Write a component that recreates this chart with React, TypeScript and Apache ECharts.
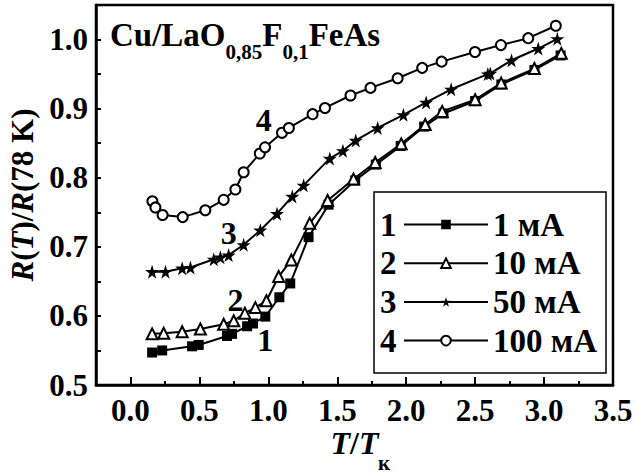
import React, { useEffect, useRef } from "react";
import * as echarts from "echarts";

const FONT = "Liberation Serif";

// Series values (x = T/Tк, y = R(T)/R(78 K))
const s1X = [0.157, 0.23, 0.447, 0.495, 0.7, 0.737, 0.846, 0.889, 0.978, 1.08, 1.159, 1.292, 1.437, 1.63, 1.78, 1.96, 2.13, 2.27, 2.5, 2.69, 2.93, 3.12];
const s1Y = [0.547, 0.55, 0.556, 0.558, 0.571, 0.574, 0.585, 0.589, 0.599, 0.627, 0.647, 0.714, 0.761, 0.796, 0.819, 0.846, 0.874, 0.893, 0.911, 0.935, 0.956, 0.977];

const s2X = [0.157, 0.241, 0.375, 0.507, 0.676, 0.749, 0.83, 0.906, 0.986, 1.075, 1.167, 1.3, 1.43, 1.618, 1.775, 1.964, 2.138, 2.261, 2.5, 2.689, 2.93, 3.125];
const s2Y = [0.574, 0.575, 0.577, 0.581, 0.588, 0.593, 0.604, 0.612, 0.622, 0.657, 0.681, 0.734, 0.767, 0.798, 0.822, 0.849, 0.877, 0.896, 0.913, 0.937, 0.958, 0.98];

const s3X = [0.157, 0.254, 0.375, 0.435, 0.604, 0.652, 0.712, 0.821, 0.942, 1.063, 1.174, 1.256, 1.446, 1.541, 1.634, 1.793, 1.98, 2.145, 2.326, 2.592, 2.61, 2.764, 2.958, 3.096];
const s3Y = [0.664, 0.664, 0.669, 0.67, 0.682, 0.685, 0.688, 0.703, 0.724, 0.748, 0.773, 0.789, 0.828, 0.839, 0.854, 0.872, 0.891, 0.909, 0.928, 0.95, 0.951, 0.97, 0.987, 1.001];

const s4X = [0.159, 0.181, 0.233, 0.379, 0.543, 0.676, 0.761, 0.821, 0.938, 0.976, 1.099, 1.149, 1.321, 1.411, 1.596, 1.741, 1.938, 2.116, 2.257, 2.499, 2.687, 2.885, 3.085];
const s4Y = [0.766, 0.757, 0.746, 0.743, 0.753, 0.768, 0.783, 0.808, 0.835, 0.844, 0.865, 0.872, 0.892, 0.901, 0.919, 0.93, 0.944, 0.959, 0.968, 0.982, 0.992, 1.002, 1.02];

const seriesNames = ["1 мА", "10 мА", "50 мА", "100 мА"];
const seriesNumbers = ["1", "2", "3", "4"];
// curve number annotations [x, y] in data units
const curveLabelPos = [
  [0.978, 0.565],
  [0.761, 0.623],
  [0.712, 0.72],
  [0.966, 0.884],
];

const X_MIN = -0.25;
const X_MAX = 3.5;
const Y_MIN = 0.5;
const Y_MAX = 1.05;

const STAR = "path://M50,0 L61,35 L98,35 L68,57 L79,91 L50,70 L21,91 L32,57 L2,35 L39,35 Z";

const W = 636;
const H = 475;
const GRID_LEFT = 96;
const GRID_RIGHT = 23;
const GRID_TOP = 5;
const GRID_BOTTOM = 90;

const LEG_LEFT = 374;
const LEG_TOP = 192;
const LEG_W = 232;
const LEG_H = 181;
const LEG_FONT = 33;
const LEG_PAD = [16, 6, 3, 29];
const LEG_ROW = 33;
const LEG_GAP = 5.7;

function pairs(xs: number[], ys: number[]) {
  return xs.map((x, i) => [x, ys[i]]);
}

export default function App() {
  const ref = useRef<HTMLDivElement>(null);
  useEffect(() => {
    if (!ref.current) return;
    const chart = echarts.init(ref.current, undefined, { renderer: "svg" });
    const plotW = W - GRID_LEFT - GRID_RIGHT;
    const grid2Left = GRID_LEFT + (plotW * (0 - X_MIN)) / (X_MAX - X_MIN);

    const symbols = ["rect", "emptyTriangle", STAR, "emptyCircle"];
    const sizes = [10, 11, 14, 10];
    const datas = [pairs(s1X, s1Y), pairs(s2X, s2Y), pairs(s3X, s3Y), pairs(s4X, s4Y)];

    const bold = { fontFamily: FONT, fontWeight: "bold" as const, color: "#000" };

    const series = datas.map((d, i) => ({
      type: "line",
      name: seriesNames[i],
      xAxisIndex: 0,
      yAxisIndex: 0,
      data: d,
      symbol: symbols[i],
      symbolSize: sizes[i],
      showSymbol: true,
      lineStyle: { color: "#000", width: 2 },
      itemStyle: { color: "#000", borderWidth: 1.7 },
      emphasis: { disabled: true },
      z: 3 + i,
      markPoint: {
        symbol: "rect",
        symbolSize: 1,
        itemStyle: { color: "rgba(0,0,0,0)" },
        label: {
          show: true,
          position: "inside",
          formatter: seriesNumbers[i],
          fontSize: 32,
          ...bold,
        },
        data: [{ coord: curveLabelPos[i] }],
      },
    }));

    const legendNumbers = seriesNumbers.map((n, i) => ({
      type: "text",
      left: LEG_LEFT + 6,
      top: LEG_TOP + LEG_PAD[0] + i * (LEG_ROW + LEG_GAP),
      style: { text: n, fontSize: LEG_FONT, lineHeight: LEG_ROW, fontFamily: FONT, fontWeight: "bold", fill: "#000" },
      z: 100,
    }));

    const option: any = {
      animation: false,
      backgroundColor: "#fff",
      textStyle: { fontFamily: FONT },
      grid: [
        {
          left: GRID_LEFT,
          right: GRID_RIGHT,
          top: GRID_TOP,
          bottom: GRID_BOTTOM,
          show: true,
          borderColor: "#000",
          borderWidth: 2.5,
          containLabel: false,
          outerBoundsMode: "none",
        },
        {
          left: grid2Left,
          right: GRID_RIGHT,
          top: GRID_TOP,
          bottom: GRID_BOTTOM,
          show: false,
          containLabel: false,
          outerBoundsMode: "none",
        },
      ],
      xAxis: [
        {
          type: "value",
          gridIndex: 0,
          min: X_MIN,
          max: X_MAX,
          axisLine: { show: true, onZero: false, lineStyle: { color: "#000", width: 2.5 } },
          axisTick: { show: false },
          axisLabel: { show: false },
          splitLine: { show: false },
          name: "{i|T}{b|/}{i|T}",
          nameLocation: "middle",
          nameGap: 48,
          nameTextStyle: {
            rich: {
              i: { fontSize: 32, fontFamily: FONT, fontWeight: "bold", fontStyle: "italic", color: "#000", lineHeight: 20 },
              b: { fontSize: 32, fontFamily: FONT, fontWeight: "bold", color: "#000", lineHeight: 20 },
            },
          },
        },
        {
          type: "value",
          gridIndex: 1,
          min: 0,
          max: X_MAX,
          interval: 0.5,
          axisLine: { show: false, onZero: false },
          axisTick: { show: true, inside: true, length: 8, lineStyle: { color: "#000", width: 2 } },
          minorTick: { show: true, splitNumber: 2, length: 4, lineStyle: { color: "#000", width: 2 } },
          axisLabel: {
            show: true,
            margin: 12,
            fontSize: 31,
            lineHeight: 26,
            ...bold,
            formatter: (v: number) => v.toFixed(1),
          },
          splitLine: { show: false },
          minorSplitLine: { show: false },
        },
      ],
      yAxis: [
        {
          type: "value",
          gridIndex: 0,
          min: Y_MIN,
          max: Y_MAX,
          interval: 0.05,
          axisLine: { show: true, onZero: false, lineStyle: { color: "#000", width: 2.5 } },
          axisTick: { show: true, inside: true, length: 5, lineStyle: { color: "#000", width: 2 } },
          axisLabel: {
            show: true,
            margin: 8,
            fontSize: 31,
            ...bold,
            formatter: (v: number) =>
              Math.abs(v * 10 - Math.round(v * 10)) < 1e-6 ? v.toFixed(1) : "",
          },
          splitLine: { show: false },
          name: "{i|R}{b|(}{i|T}{b|)/}{i|R}{b|(78 K)}",
          nameLocation: "middle",
          nameRotate: 90,
          nameGap: 38,
          nameTextStyle: {
            rich: {
              i: { fontSize: 31, fontFamily: FONT, fontWeight: "bold", fontStyle: "italic", color: "#000" },
              b: { fontSize: 31, fontFamily: FONT, fontWeight: "bold", color: "#000" },
            },
          },
        },
        {
          type: "value",
          gridIndex: 1,
          min: Y_MIN,
          max: Y_MAX,
          show: false,
          axisLine: { show: false, onZero: false },
        },
      ],
      legend: {
        orient: "vertical",
        left: LEG_LEFT,
        top: LEG_TOP,
        padding: LEG_PAD,
        itemWidth: 84,
        itemHeight: 12,
        itemGap: LEG_GAP,
        borderWidth: 0,
        backgroundColor: "transparent",
        selectedMode: false,
        z: 20,
        data: seriesNames,
        textStyle: { fontSize: LEG_FONT, fontFamily: FONT, fontWeight: "bold", color: "#000", lineHeight: LEG_ROW },
      },
      graphic: [
        {
          type: "rect",
          shape: { x: LEG_LEFT, y: LEG_TOP, width: LEG_W, height: LEG_H },
          style: { fill: "#fff", stroke: "#000", lineWidth: 1.5 },
          z: 10,
        },
        {
          type: "text",
          left: 110,
          top: 8,
          style: {
            text: "{m|Cu/LaO}{s|0,85}{m|F}{s|0,1}{m|FeAs}",
            rich: {
              m: { fontSize: 33, fontFamily: FONT, fontWeight: "bold", fill: "#000", lineHeight: 34 },
              s: { fontSize: 21, fontFamily: FONT, fontWeight: "bold", fill: "#000", lineHeight: 21, padding: [33, 0, 0, 0] },
            },
          },
          z: 100,
        },
        {
          type: "text",
          left: 378,
          top: 452,
          style: { text: "к", fontSize: 21, fontFamily: FONT, fontWeight: "bold", fill: "#000" },
          z: 100,
        },
        ...legendNumbers,
      ],
      series,
    };
    chart.setOption(option);
    return () => chart.dispose();
  }, []);
  return (
    <div
      ref={ref}
      style={{ position: "absolute", left: 0, top: 0, width: W, height: H, background: "#fff" }}
    />
  );
}
